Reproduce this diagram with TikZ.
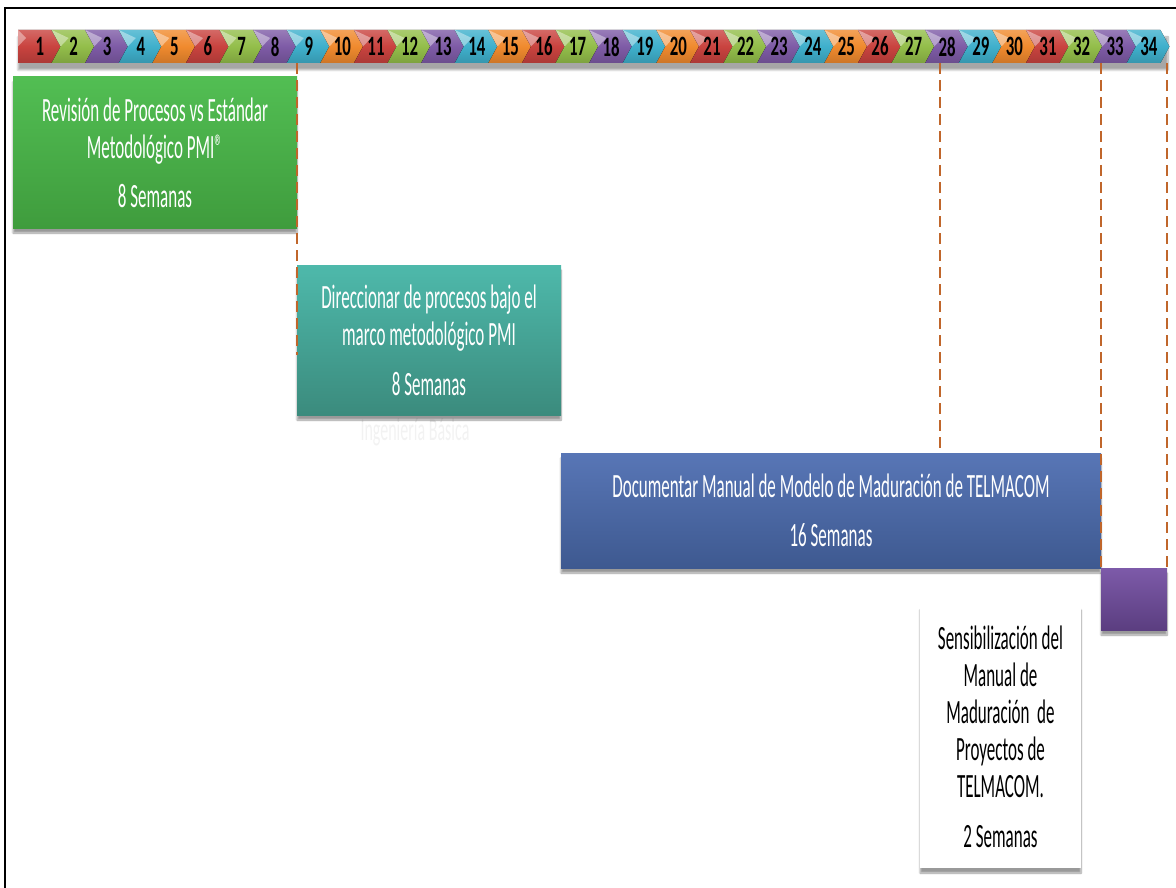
\documentclass[tikz,border=0pt]{standalone}
\usepackage{fontspec}
\newfontfamily\ganttfont[FakeStretch=0.5]{Carlito}
\newfontfamily\weekfont[FakeStretch=0.6]{Carlito}
\usetikzlibrary{
  calc,
  positioning,
  shadows.blur
}

\definecolor{wk1}{HTML}{C9433F}
\definecolor{wk2}{HTML}{93BE4A}
\definecolor{wk3}{HTML}{7E5BA6}
\definecolor{wk4}{HTML}{3FB0CC}
\definecolor{wk0}{HTML}{F08A2E}
\definecolor{revtop}{HTML}{52BE53}
\definecolor{revbot}{HTML}{3F9C3D}
\definecolor{dirtop}{HTML}{4EB9AB}
\definecolor{dirbot}{HTML}{3B8B7D}
\definecolor{doctop}{HTML}{5876B6}
\definecolor{docbot}{HTML}{3E5990}
\definecolor{senstop}{HTML}{7D5AA9}
\definecolor{sensbot}{HTML}{5B3E80}
\definecolor{milestonecol}{HTML}{C0662B}

\tikzset{
  week/.style={font=\weekfont\bfseries\fontsize{28}{28}\selectfont, inner sep=0pt},
  task/.style={anchor=north west, inner sep=0pt, outer sep=0pt, text=white, align=center,
    font=\ganttfont\fontsize{34}{37}\selectfont,
    blur shadow={shadow xshift=0pt, shadow yshift=-5pt, shadow blur steps=8, shadow opacity=40}},
  milestone/.style={draw=milestonecol, line width=1.3pt, dash pattern=on 11pt off 6pt}
}

\begin{document}
\begin{tikzpicture}[x=1pt, y=-1pt]
            \useasboundingbox (0,0) rectangle (1176,888);
            \draw[line width=2pt] (5,888) -- (5,8) -- (1176,8);
            % week bar
            \path[blur shadow={shadow xshift=0pt, shadow yshift=-7pt, shadow blur steps=8, shadow opacity=35}] (18,30) rectangle (1168,63);
            \foreach \i in {1,...,34} {
              \pgfmathtruncatemacro\c{mod(\i,5)}
              \pgfmathsetmacro\xl{18+(\i-1)*33.6}
              \pgfmathsetmacro\xr{\xl+33.6}
              \ifnum\i=1 \def\notch{0}\else\def\notch{9}\fi
              \fill[top color=wk\c!80!white, bottom color=wk\c!85!black, middle color=wk\c]
                (\xl,30) -- (\xr,30) -- (\xr+9,46.5) -- (\xr,63) -- (\xl,63) -- (\xl+\notch,46.5) -- cycle;
              \fill[white, opacity=.4] (\xl,30) -- (\xl+\notch,46.5) -- (\xl+\notch+8,38) -- cycle;
              \node[week] (w\i) at (\xl+22,46.5) {\i};
            }
            \coordinate (barS) at (0,63);
            % tasks
            \node[task, top color=revtop, bottom color=revbot,
                  minimum width=284pt, minimum height=151pt] (rev) at (13,77)
                  {Revisión de Procesos vs Estándar\\Metodológico PMI®\\[12pt]8 Semanas};
            \node[text=black!5, font=\ganttfont\fontsize{32}{30}\selectfont] (ing) at (415,432) {Ingeniería Básica};
            \node[task, top color=dirtop, bottom color=dirbot,
                  minimum width=264pt, minimum height=150pt] (dir) at (297,265)
                  {Direccionar de procesos bajo el\\marco metodológico PMI\\[13pt]8 Semanas};
            \node[task, top color=doctop, bottom color=docbot,
                  minimum width=540pt, minimum height=115pt] (doc) at (561,453)
                  {Documentar Manual de Modelo de Maduración de TELMACOM\\[12pt]16 Semanas};
            \node[task, top color=senstop, bottom color=sensbot,
                  minimum width=66pt, minimum height=62pt] (sens) at (1101,568) {};
            \node[task, fill=white, text=black, minimum width=161pt, minimum height=263pt] (man) at (920,605)
                  {Sensibilización del\\Manual de\\Maduración~ de\\Proyectos de\\TELMACOM.\\[13pt]2 Semanas};
            % milestones
            \draw[milestone] (rev.north east |- barS) -- ($(dir.north west)!0.6!(dir.south west)$);
            \draw[milestone] (940,63) -- (940,450);
            \draw[milestone] (doc.north east |- barS) -- (doc.south east);
            \draw[milestone] (sens.north east |- barS) -- (sens.north east);
          \end{tikzpicture}
\end{document}
